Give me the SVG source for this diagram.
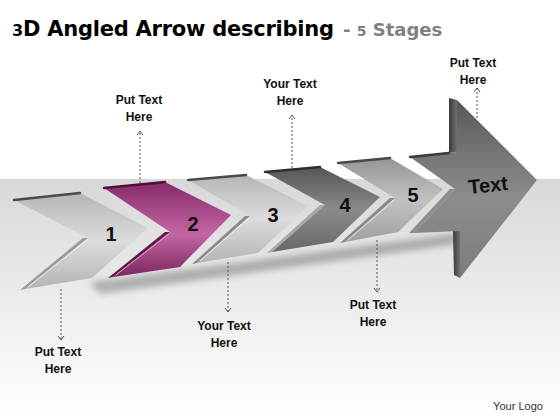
<svg xmlns="http://www.w3.org/2000/svg" width="560" height="420" viewBox="0 0 560 420">
<defs>
<style>
.title{font-family:"DejaVu Sans","Liberation Sans",sans-serif;font-weight:bold;}
.lbl{font-family:"Liberation Sans",Arial,sans-serif;font-weight:bold;font-size:12px;fill:#111;text-anchor:middle;}
.num{font-family:"Liberation Sans",Arial,sans-serif;font-weight:bold;font-size:20px;fill:#111;text-anchor:middle;}
.top{stroke:#4a4a4a;stroke-width:2.5;fill:none;stroke-linecap:round;}
.hl{stroke:#ffffff;stroke-opacity:0.7;stroke-width:1;fill:none;}
.conn{stroke:#555;stroke-width:1;stroke-dasharray:2 2;fill:none;}
</style>
<linearGradient id="bg" x1="0" y1="179" x2="0" y2="420" gradientUnits="userSpaceOnUse">
<stop offset="0" stop-color="#d8d8d8"/><stop offset="0.5" stop-color="#ececec"/><stop offset="1" stop-color="#ffffff"/>
</linearGradient>
<linearGradient id="gLight" x1="0" y1="0" x2="0" y2="1">
<stop offset="0" stop-color="#b6b6b6"/><stop offset="0.5" stop-color="#dcdcdc"/><stop offset="1" stop-color="#b4b4b4"/>
</linearGradient>
<linearGradient id="gPurple" x1="0" y1="0" x2="0" y2="1">
<stop offset="0" stop-color="#862a68"/><stop offset="0.55" stop-color="#c466a3"/><stop offset="1" stop-color="#7a2760"/>
</linearGradient>
<linearGradient id="gDark" x1="0" y1="0" x2="0" y2="1">
<stop offset="0" stop-color="#555555"/><stop offset="0.5" stop-color="#8a8a8a"/><stop offset="1" stop-color="#686868"/>
</linearGradient>
<linearGradient id="gMid" x1="0" y1="0" x2="0" y2="1">
<stop offset="0" stop-color="#959595"/><stop offset="0.5" stop-color="#c2c2c2"/><stop offset="1" stop-color="#a0a0a0"/>
</linearGradient>
<linearGradient id="gBig" x1="0" y1="0" x2="0" y2="1">
<stop offset="0" stop-color="#585858"/><stop offset="0.55" stop-color="#8c8c8c"/><stop offset="1" stop-color="#7c7c7c"/>
</linearGradient>
<linearGradient id="gSide" x1="0" y1="0" x2="1" y2="0">
<stop offset="0" stop-color="#3a3a3a"/><stop offset="1" stop-color="#707070"/>
</linearGradient>
<filter id="blur" x="-10%" y="-50%" width="120%" height="200%"><feGaussianBlur stdDeviation="3"/></filter>
<marker id="ah" markerWidth="8" markerHeight="8" refX="7" refY="4" orient="auto" markerUnits="userSpaceOnUse" viewBox="0 0 8 8">
<polyline points="3,1 7,4 3,7" fill="none" stroke="#555" stroke-width="1"/>
</marker>
</defs>

<rect width="560" height="420" fill="#ffffff"/>
<rect x="0" y="179" width="560" height="241" fill="url(#bg)"/>

<g id="title">
<text class="title" x="12" y="36" font-size="21" fill="#000" textLength="322" lengthAdjust="spacing"><tspan font-size="16">3</tspan>D Angled Arrow describing</text>
<text class="title" x="343" y="36" font-size="18" fill="#808080">- <tspan font-size="14">5</tspan> Stages</text>
</g>

<polygon points="90,282 455,234 458,244 100,294" fill="#444" opacity="0.35" filter="url(#blur)"/>

<g id="stage1">
<polygon points="88,238 25,289 20,290 83,238" fill="#9a9a9a"/>
<polygon points="14,200 80,193 148,228 92,278 25,289 88,238" fill="url(#gLight)"/>
<line class="top" x1="14" y1="200" x2="80" y2="193"/>
<line class="hl" x1="87" y1="240" x2="28" y2="287"/>
<text class="num" x="111" y="241">1</text>
</g>

<g id="stage2">
<polygon points="170,232 113,277 108,278 165,232" fill="#5e1b47"/>
<polygon points="104,188 165,182 231,215 180,267 113,277 170,232" fill="url(#gPurple)"/>
<line x1="104" y1="188" x2="165" y2="182" stroke="#4d1039" stroke-width="2.5" stroke-linecap="round"/>
<line x1="169" y1="234" x2="116" y2="275" stroke="#e59ccc" stroke-width="1"/>
<text class="num" x="193" y="231">2</text>
</g>

<g id="stage3">
<polygon points="250,216 197,263 192,264 245,216" fill="#8c8c8c"/>
<polygon points="188,180 246,175 308,206 258,253 197,263 250,216" fill="url(#gLight)"/>
<line class="top" x1="188" y1="180" x2="246" y2="175"/>
<line class="hl" x1="249" y1="218" x2="200" y2="261"/>
<text class="num" x="273" y="222">3</text>
</g>

<g id="stage4">
<polygon points="325,205 272,252 267,253 320,205" fill="#a8a8a8"/>
<polygon points="265,172 320,167 380,197 333,242 272,252 325,205" fill="url(#gDark)"/>
<line x1="265" y1="172" x2="320" y2="167" stroke="#2e2e2e" stroke-width="2.5" stroke-linecap="round"/>
<text class="num" x="345" y="212">4</text>
</g>

<g id="stage5">
<polygon points="395,198 345,242 340,243 390,198" fill="#8a8a8a"/>
<polygon points="338,163 390,158 443,189 398,232 345,242 395,198" fill="url(#gMid)"/>
<line class="top" x1="338" y1="163" x2="390" y2="158"/>
<line class="hl" x1="394" y1="200" x2="348" y2="240"/>
<text class="num" x="413" y="202">5</text>
</g>

<g id="stage-text">
<polygon points="455,189 414,233 409,233 450,189" fill="#8e8e8e"/>
<polygon points="449,98 457,100 457,152 449,153" fill="url(#gSide)"/>
<polygon points="453,231 460,231 460,278 454,275" fill="url(#gSide)"/>
<polygon points="410,157 457,152 457,100 537,180 460,278 460,231 414,233 455,189" fill="url(#gBig)"/>
<line x1="410" y1="157" x2="449" y2="153" stroke="#3a3a3a" stroke-width="2.5" stroke-linecap="round"/>
<text class="num" x="488" y="192" font-size="21" transform="rotate(-6 488 185)">Text</text>
</g>

<g id="connectors">
<line class="conn" x1="140" y1="183" x2="140" y2="131" marker-end="url(#ah)"/>
<line class="conn" x1="292" y1="168" x2="292" y2="115" marker-end="url(#ah)"/>
<line class="conn" x1="477" y1="118" x2="477" y2="88" marker-end="url(#ah)"/>
<line class="conn" x1="61" y1="289" x2="61" y2="340" marker-end="url(#ah)"/>
<line class="conn" x1="228" y1="262" x2="228" y2="312" marker-end="url(#ah)"/>
<line class="conn" x1="377" y1="240" x2="377" y2="292" marker-end="url(#ah)"/>
</g>

<g id="label-top1"><text class="lbl" x="139" y="104">Put Text</text><text class="lbl" x="139" y="121">Here</text></g>
<g id="label-top2"><text class="lbl" x="290" y="88">Your Text</text><text class="lbl" x="290" y="105">Here</text></g>
<g id="label-top3"><text class="lbl" x="473" y="67">Put Text</text><text class="lbl" x="473" y="84">Here</text></g>
<g id="label-bot1"><text class="lbl" x="58" y="356">Put Text</text><text class="lbl" x="58" y="373">Here</text></g>
<g id="label-bot2"><text class="lbl" x="224" y="330">Your Text</text><text class="lbl" x="224" y="347">Here</text></g>
<g id="label-bot3"><text class="lbl" x="373" y="309">Put Text</text><text class="lbl" x="373" y="326">Here</text></g>
<g id="logo"><text x="518" y="410" font-family="Liberation Sans, Arial, sans-serif" font-size="11" fill="#333" text-anchor="middle">Your Logo</text></g>
</svg>
